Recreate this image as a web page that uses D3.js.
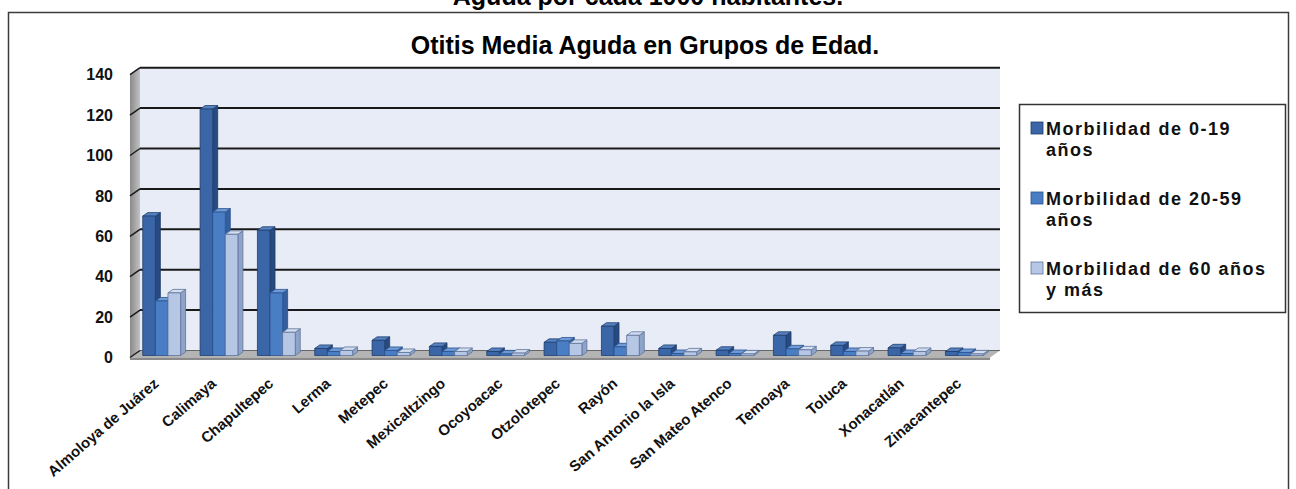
<!DOCTYPE html>
<html>
<head>
<meta charset="utf-8">
<script src="https://cdn.jsdelivr.net/npm/d3@7"></script>
<style>
  body { margin: 0; background: #fff; }
  svg text { font-family: "Liberation Sans", Arial, sans-serif; }
</style>
</head>
<body>
<div id="chart"></div>
<script>
// data
var municipios = ['Almoloya de Juárez', 'Calimaya', 'Chapultepec', 'Lerma', 'Metepec', 'Mexicaltzingo',
      'Ocoyoacac', 'Otzolotepec', 'Rayón', 'San Antonio la Isla', 'San Mateo Atenco', 'Temoaya',
      'Toluca', 'Xonacatlán', 'Zinacantepec'];
var morb0_19  = [69, 122, 62, 3.5, 7.5, 4.5, 2, 6.5, 14.5, 3.5, 2.6, 10, 5, 3.8, 2];
var morb20_59 = [27, 71, 31, 2, 2.5, 2, 0.8, 7.2, 4.3, 1, 1, 3.3, 2, 1, 1.5];
var morb60    = [31, 60, 11.5, 2.5, 1.5, 2, 1.2, 6, 10, 1.8, 0.8, 2.8, 2.2, 2, 0.8];
var seriesNames = ['Morbilidad de 0-19|años', 'Morbilidad de 20-59|años', 'Morbilidad de 60 años|y más'];
var yTicks = [0, 20, 40, 60, 80, 100, 120, 140];

var width = 1296, height = 489;
var series = [morb0_19, morb20_59, morb60];

var frontCol = ['#3a65a6', '#4a7ec4', '#b6c7e6'];
var topCol   = ['#5682c2', '#6e9ad6', '#d3def1'];
var sideCol  = ['#274a80', '#345f9c', '#8ea3c8'];
var edgeCol  = ['#1f3d6c', '#2a5290', '#5f7499'];

var svg = d3.select('#chart').append('svg')
      .attr('width', width)
      .attr('height', height);

// outer frame (bottom edge falls outside the picture)
svg.append('rect')
      .attr('x', 8.5).attr('y', 12.5)
      .attr('width', 1280).attr('height', 490)
      .attr('fill', 'none').attr('stroke', '#3c3c3c').attr('stroke-width', 1.5);

// heading above the frame, cut off at the top as in the original
svg.append('text')
      .attr('x', 648).attr('y', 5)
      .style('text-anchor', 'middle')
      .style('font-size', '25px').style('font-weight', 'bold')
      .text('Aguda por cada 1000 habitantes.');

svg.append('text')
      .attr('x', 645).attr('y', 54)
      .style('text-anchor', 'middle')
      .style('font-size', '25px').style('font-weight', 'bold')
      .text('Otitis Media Aguda en Grupos de Edad.');

// scales in the front plane of the floor
var x = d3.scaleBand()
      .domain(municipios)
      .range([130, 990])
      .paddingInner(0.34)
      .paddingOuter(0.17);
var xSub = d3.scaleBand().domain([0, 1, 2]).range([0, x.bandwidth()]);
var y = d3.scaleLinear().domain([0, 140]).range([357.5, 74.7]);

var depth = {dx: 10, dy: -7};      // floor / wall depth
var barOff = {dx: 3, dy: -2};      // front of bars inside floor
var barDepth = {dx: 5, dy: -3.5};

var x0 = x.range()[0], x1 = x.range()[1];

var defs = svg.append('defs');
var lg = defs.append('linearGradient').attr('id', 'sideWall').attr('x1', 0).attr('x2', 1);
lg.append('stop').attr('offset', 0).attr('stop-color', '#8a8a8a');
lg.append('stop').attr('offset', 1).attr('stop-color', '#c2c2c2');

function pts(a) { return a.map(p => p.join(',')).join(' '); }

// back wall
svg.append('rect')
      .attr('x', x0 + depth.dx).attr('y', y(140) + depth.dy)
      .attr('width', x1 - x0).attr('height', y(0) - y(140))
      .attr('fill', '#e8ecf6');

// left wall
svg.append('polygon')
      .attr('points', pts([[x0, y(140)], [x0 + depth.dx, y(140) + depth.dy],
            [x0 + depth.dx, y(0) + depth.dy], [x0, y(0)]]))
      .attr('fill', 'url(#sideWall)');

// floor
svg.append('polygon')
      .attr('points', pts([[x0, y(0)], [x0 + depth.dx, y(0) + depth.dy],
            [x1 + depth.dx, y(0) + depth.dy], [x1, y(0)]]))
      .attr('fill', '#b4b4b4');
svg.append('rect')
      .attr('x', x0).attr('y', y(0))
      .attr('width', x1 - x0).attr('height', 2.5)
      .attr('fill', '#8a8a8a');

// gridlines
var grid = svg.append('g');
grid.selectAll('line.back')
      .data(yTicks)
      .enter().append('line')
      .attr('x1', x0 + depth.dx).attr('x2', x1 + depth.dx)
      .attr('y1', d => y(d) + depth.dy).attr('y2', d => y(d) + depth.dy)
      .attr('stroke', d => d === 0 ? '#666' : '#1a1a1a')
      .attr('stroke-width', d => d === 0 ? 1 : 2);
grid.selectAll('line.side')
      .data(yTicks)
      .enter().append('line')
      .attr('x1', x0).attr('x2', x0 + depth.dx)
      .attr('y1', d => y(d)).attr('y2', d => y(d) + depth.dy)
      .attr('stroke', '#1a1a1a').attr('stroke-width', 1.5);

// bars
var bars = svg.append('g');
municipios.forEach(function (m, i) {
      series.forEach(function (s, k) {
            var v = s[i];
            var bx = x(m) + xSub(k) + barOff.dx;
            var bw = xSub.bandwidth();
            var yb = y(0) + barOff.dy;
            var yt = y(v) + barOff.dy;
            var g = bars.append('g')
                  .attr('stroke', edgeCol[k]).attr('stroke-width', 0.8)
                  .attr('stroke-linejoin', 'round');
            // right side
            g.append('polygon')
                  .attr('points', pts([[bx + bw, yt], [bx + bw + barDepth.dx, yt + barDepth.dy],
                        [bx + bw + barDepth.dx, yb + barDepth.dy], [bx + bw, yb]]))
                  .attr('fill', sideCol[k]);
            // top
            g.append('polygon')
                  .attr('points', pts([[bx, yt], [bx + barDepth.dx, yt + barDepth.dy],
                        [bx + bw + barDepth.dx, yt + barDepth.dy], [bx + bw, yt]]))
                  .attr('fill', topCol[k]);
            // front
            g.append('rect')
                  .attr('x', bx).attr('y', yt)
                  .attr('width', bw).attr('height', yb - yt)
                  .attr('fill', frontCol[k]);
      });
});

// y axis labels
var yAxis = d3.axisLeft(y)
      .tickValues(yTicks)
      .tickSize(0)
      .tickPadding(17)
      .tickFormat(d3.format('d'));
var yG = svg.append('g')
      .attr('transform', 'translate(' + x0 + ',0)')
      .call(yAxis);
yG.select('.domain').remove();
yG.selectAll('text')
      .style('font-family', '"Liberation Sans", Arial, sans-serif')
      .style('font-size', '16px').style('font-weight', 'bold')
      .attr('fill', '#111');

// x axis labels, rotated
svg.append('g').selectAll('text')
      .data(municipios)
      .enter().append('text')
      .attr('transform', d => 'translate(' + (x(d) + x.bandwidth() / 2 + 1) + ',385) rotate(-41)')
      .style('text-anchor', 'end')
      .style('font-size', '15px').style('font-weight', 'bold')
      .attr('fill', '#111')
      .text(d => d);

// legend
var legend = svg.append('g');
legend.append('rect')
      .attr('x', 1019.5).attr('y', 104.5)
      .attr('width', 266).attr('height', 208)
      .attr('fill', '#fff').attr('stroke', '#333').attr('stroke-width', 1.5);
var legendY = [128, 198, 268];
seriesNames.forEach(function (name, k) {
      var cy = legendY[k];
      legend.append('rect')
            .attr('x', 1031).attr('y', cy - 6)
            .attr('width', 12).attr('height', 12)
            .attr('fill', frontCol[k]).attr('stroke', edgeCol[k]).attr('stroke-width', 0.8);
      var lines = name.split('|');
      lines.forEach(function (t, j) {
            legend.append('text')
                  .attr('x', 1046).attr('y', cy + 7 + j * 21)
                  .style('font-size', '18px').style('font-weight', 'bold')
                  .style('letter-spacing', '1.5px')
                  .attr('fill', '#111')
                  .text(t);
      });
});
</script>
</body>
</html>
